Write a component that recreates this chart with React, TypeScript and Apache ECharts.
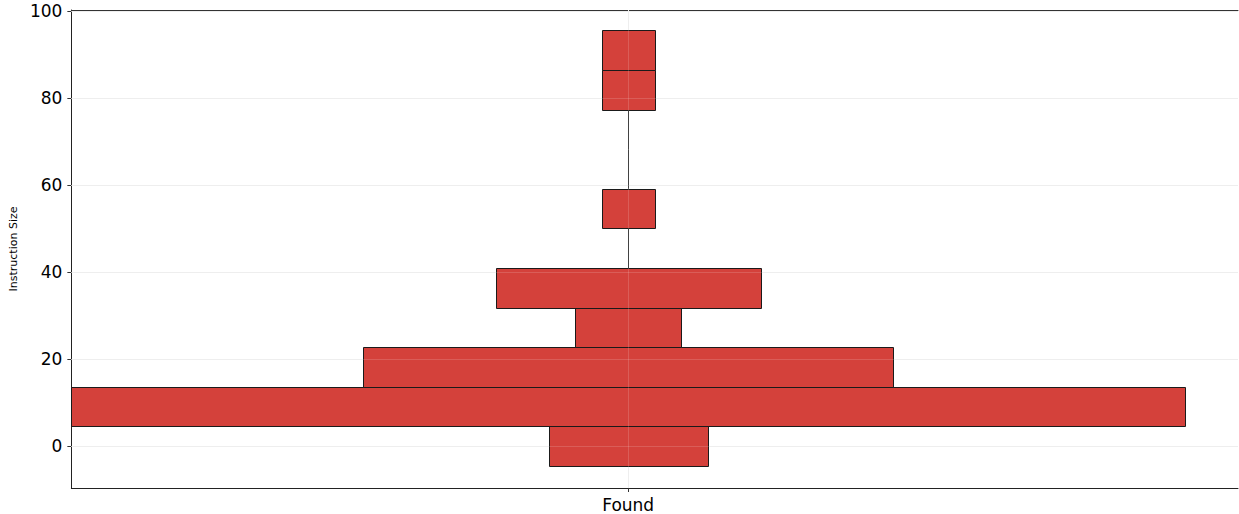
import React, { useEffect, useRef } from "react";
import * as echarts from "echarts";

const categoryName = "Found";
const yAxisName = "Instruction Size";
const binEdges = [-4.5, 4.6, 13.7, 22.8, 31.9, 41.0, 50.1, 59.2, 68.3, 77.4, 86.5, 95.6];
const binCounts = [3, 21, 10, 2, 5, 0, 1, 0, 0, 1, 1];
const yTicks = [0, 20, 40, 60, 80, 100];
const xTicks = [0];

const FONT = "DejaVu Sans";

export default function App() {
  const ref = useRef<HTMLDivElement>(null);
  useEffect(() => {
    if (!ref.current) return;
    const chart = echarts.init(ref.current, null, { renderer: "svg" });

    const bins = binCounts
      .map((c, i) => [binEdges[i], binEdges[i + 1], c])
      .filter((b) => b[2] > 0);
    const gaps = binCounts
      .map((c, i) => [binEdges[i], binEdges[i + 1], c])
      .filter((b) => b[2] === 0);

    const option: any = {
      animation: false,
      backgroundColor: "#ffffff",
      grid: { left: 71, top: 10, right: 1, bottom: 26, containLabel: false },
      xAxis: [
        {
          type: "value",
          min: -21,
          max: 23,
          position: "bottom",
          axisLine: { show: true, onZero: false, lineStyle: { color: "#222", width: 1 } },
          axisTick: { show: true, customValues: xTicks, length: 4, lineStyle: { color: "#333" } },
          axisLabel: {
            show: true,
            customValues: xTicks,
            formatter: () => categoryName,
            fontFamily: FONT,
            fontSize: 17,
            color: "#000",
            margin: 8,
          },
          splitLine: { show: false },
        },
        {
          type: "value",
          min: -21,
          max: 23,
          position: "top",
          axisLine: { show: true, onZero: false, lineStyle: { color: "#333", width: 1 } },
          axisTick: { show: false },
          axisLabel: { show: false },
          splitLine: { show: false },
        },
      ],
      yAxis: {
        type: "value",
        min: -9.55,
        max: 100.3,
        name: yAxisName,
        nameLocation: "middle",
        nameGap: 50,
        nameTextStyle: { fontFamily: FONT, fontSize: 11, color: "#000" },
        axisLine: { show: true, onZero: false, lineStyle: { color: "#222", width: 1 } },
        axisTick: { show: true, customValues: yTicks, length: 4, lineStyle: { color: "#333" } },
        axisLabel: {
          show: true,
          customValues: yTicks,
          fontFamily: FONT,
          fontSize: 17,
          color: "#000",
          margin: 9,
        },
        splitLine: { show: false },
      },
      series: [
        {
          type: "custom",
          z: 1,
          silent: true,
          data: yTicks.map((v) => [v]),
          renderItem: (params: any, api: any) => {
            const cs = params.coordSys;
            const p = api.coord([0, api.value(0)]);
            const y = Math.round(p[1]) + 0.5;
            return {
              type: "line",
              shape: { x1: cs.x, y1: y, x2: cs.x + cs.width, y2: y },
              style: { stroke: "#ebebeb", lineWidth: 1 },
            };
          },
        },
        {
          type: "custom",
          z: 1,
          silent: true,
          data: xTicks.map((v) => [v]),
          renderItem: (params: any, api: any) => {
            const cs = params.coordSys;
            const p = api.coord([api.value(0), 0]);
            const x = Math.round(p[0]) + 0.5;
            return {
              type: "line",
              shape: { x1: x, y1: cs.y, x2: x, y2: cs.y + cs.height },
              style: { stroke: "#ebebeb", lineWidth: 1 },
            };
          },
        },
        {
          type: "custom",
          z: 2,
          silent: true,
          data: gaps,
          renderItem: (params: any, api: any) => {
            const a = api.coord([0, api.value(0)]);
            const b = api.coord([0, api.value(1)]);
            const x = Math.round(a[0]) + 0.5;
            return {
              type: "line",
              shape: { x1: x, y1: a[1], x2: x, y2: b[1] },
              style: { stroke: "#222", lineWidth: 1 },
            };
          },
        },
        {
          type: "custom",
          z: 3,
          silent: true,
          data: bins,
          renderItem: (params: any, api: any) => {
            const lo = api.value(0);
            const hi = api.value(1);
            const c = api.value(2);
            const p1 = api.coord([-c, hi]);
            const p2 = api.coord([c, lo]);
            const x1 = Math.round(p1[0]) + 0.5;
            const x2 = Math.round(p2[0]) + 0.5;
            const y1 = Math.round(p1[1]) + 0.5;
            const y2 = Math.round(p2[1]) + 0.5;
            return {
              type: "rect",
              shape: { x: x1, y: y1, width: x2 - x1, height: y2 - y1 },
              style: { fill: "#d4413b", stroke: "#1a1a1a", lineWidth: 1 },
            };
          },
        },
        {
          type: "custom",
          z: 4,
          silent: true,
          data: yTicks.map((v) => [v]),
          renderItem: (params: any, api: any) => {
            const cs = params.coordSys;
            const p = api.coord([0, api.value(0)]);
            const y = Math.round(p[1]) + 0.5;
            return {
              type: "line",
              shape: { x1: cs.x, y1: y, x2: cs.x + cs.width, y2: y },
              style: { stroke: "rgba(255,255,255,0.15)", lineWidth: 1 },
            };
          },
        },
        {
          type: "custom",
          z: 4,
          silent: true,
          data: xTicks.map((v) => [v]),
          renderItem: (params: any, api: any) => {
            const cs = params.coordSys;
            const p = api.coord([api.value(0), 0]);
            const x = Math.round(p[0]) + 0.5;
            return {
              type: "line",
              shape: { x1: x, y1: cs.y, x2: x, y2: cs.y + cs.height },
              style: { stroke: "rgba(255,255,255,0.15)", lineWidth: 1 },
            };
          },
        },
      ],
    };
    chart.setOption(option);
    return () => chart.dispose();
  }, []);
  return (
    <div
      ref={ref}
      style={{ position: "fixed", left: 0, top: 0, width: 1239, height: 514, background: "#fff" }}
    />
  );
}
